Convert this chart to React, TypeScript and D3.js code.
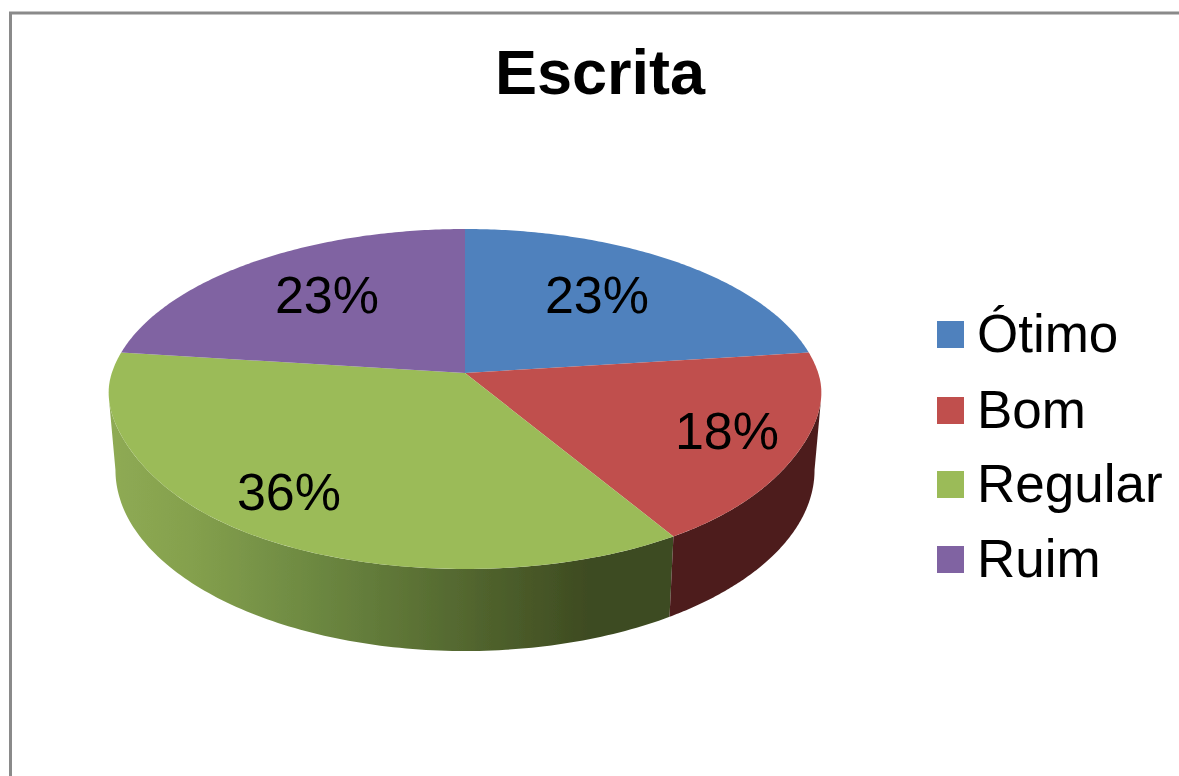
import React from "react";
import * as d3 from "d3";

const categories = ["Ótimo", "Bom", "Regular", "Ruim"];
const values = [23, 18.4, 35.6, 23];
const topColors = ["#4f81bd", "#c0504d", "#9bbb59", "#8064a2"];
const title = "Escrita";

const W = 1179, H = 776;
const FONT = "'Liberation Sans', Arial, sans-serif";

// Projective map of the unit disc
const cx = 465, y0 = 373, S = 353.2, A = 166, C = -0.153;
const KX = 0.978, KY = 1.065, DY = 69.3;
const midY = 399, FLAT = 0.018;
// angles of the left and right silhouette of the cylinder
const frontStart = Math.acos(C), frontEnd = 2 * Math.PI - Math.acos(C);

const topPt = (t: number): [number, number] => {
  const u = Math.sin(t), v = -Math.cos(t), d = 1 + C * v;
  const x = cx + (S * u) / d, y = y0 + (A * v) / d;
  // the front rim of the top face is a little flatter than a true ellipse
  const w = v > 0 ? Math.sin(Math.PI * v) ** 2 : 0;
  const f = 1 - FLAT * w;
  return [cx + (x - cx) * f, midY + (y - midY) * f];
};
const botPt = (t: number): [number, number] => {
  const u = Math.sin(t), v = -Math.cos(t), d = 1 + C * v;
  return [cx + (KX * S * u) / d, y0 + DY + (KY * A * v) / d];
};

const samples = (a: number, b: number) => d3.range(0, 121).map((i) => a + ((b - a) * i) / 120);
const line = d3.line<[number, number]>();

export default function App() {
  const arcs = d3.pie<number>().sort(null)(values);
  const top = arcs.map((s) => {
    const pts = samples(s.startAngle, s.endAngle).map(topPt);
    return line([[cx, y0], ...pts])! + "Z";
  });
  const wall = (a: number, b: number) => {
    const ts = samples(Math.max(a, frontStart), Math.min(b, frontEnd));
    return line([...ts.map(topPt), ...ts.slice().reverse().map(botPt)])! + "Z";
  };
  const labelPos: [number, number][] = [[597, 313], [727, 449], [289, 510], [327, 313]];
  const legendY = [334, 410, 484, 559];

  return (
    <svg width={W} height={H} style={{ position: "absolute", left: 0, top: 0, background: "#fff" }}>
      <defs>
        <linearGradient id="gw" gradientUnits="userSpaceOnUse" x1={107} x2={673} y1={0} y2={0}>
          <stop offset="0" stopColor="#8fab54" />
          <stop offset="0.15" stopColor="#84a04d" />
          <stop offset="0.35" stopColor="#6e8a42" />
          <stop offset="0.6" stopColor="#566b31" />
          <stop offset="0.85" stopColor="#3e4b21" />
          <stop offset="1" stopColor="#3e4b21" />
        </linearGradient>
        <filter id="soft" x="-5%" y="-5%" width="110%" height="110%">
          <feGaussianBlur stdDeviation="0.5" />
        </filter>
      </defs>
      <g filter="url(#soft)">
        <path d={`M${W + 5} 13 H10.5 V${H + 5}`} fill="none" stroke="#8a8a8a" strokeWidth={3} />
        <text x={600} y={94} textAnchor="middle" fontFamily={FONT} fontWeight={700} fontSize={63}>{title}</text>
        <path d={wall(arcs[2].startAngle, arcs[2].endAngle)} fill="url(#gw)" />
        <path d={wall(arcs[1].startAngle, arcs[1].endAngle)} fill="#4d1f1e" />
        {top.map((d, i) => (
          <path key={i} d={d} fill={topColors[i]} />
        ))}
        {arcs.map((s, i) => (
          <text key={i} x={labelPos[i][0]} y={labelPos[i][1]} textAnchor="middle" fontFamily={FONT} fontSize={52} fill="#000">
            {Math.round(s.data)}%
          </text>
        ))}
        {categories.map((c, i) => (
          <g key={c}>
            <rect x={937} y={legendY[i] - 13} width={27} height={27} fill={topColors[i]} />
            <text x={977} y={legendY[i] + 18} fontFamily={FONT} fontSize={53} fill="#000">{c}</text>
          </g>
        ))}
      </g>
    </svg>
  );
}
